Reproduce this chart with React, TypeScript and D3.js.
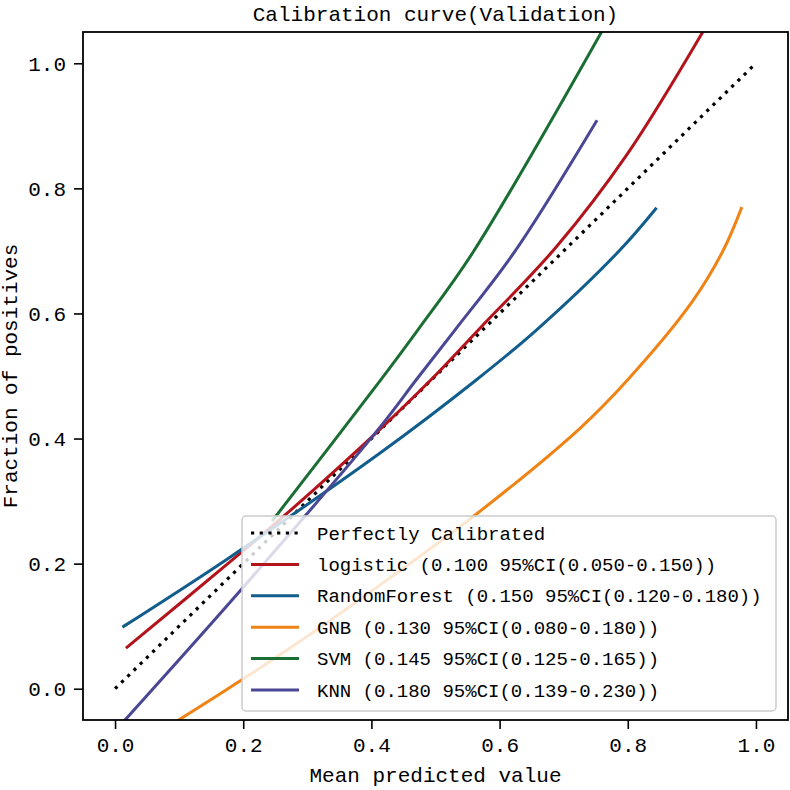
import React, { useEffect, useRef } from 'react';
import * as d3 from 'd3';

// axis ticks
const xTicks = [0, 0.2, 0.4, 0.6, 0.8, 1.0];
const yTicks = [0, 0.2, 0.4, 0.6, 0.8, 1.0];

// perfectly calibrated reference
const perfectX = [0, 1];
const perfectY = [0, 1];

// calibration curves
const logisticX = [0.017, 0.183, 0.269, 0.4125, 0.493, 0.569, 0.689, 0.8, 0.917];
const logisticY = [0.065, 0.206, 0.281, 0.414, 0.494, 0.576, 0.707, 0.856, 1.05];

const rfX = [0.0115, 0.173, 0.4125, 0.564, 0.657, 0.7875, 0.845];
const rfY = [0.0985, 0.206, 0.376, 0.494, 0.573, 0.701, 0.769];

const gnbX = [0.09, 0.178, 0.3, 0.4, 0.5635, 0.725, 0.8, 0.9, 0.949, 0.978];
const gnbY = [-0.056, 0.001, 0.084, 0.156, 0.279, 0.416, 0.494, 0.618, 0.701, 0.77];

const svmX = [0.245, 0.4125, 0.472, 0.558, 0.759];
const svmY = [0.268, 0.491, 0.573, 0.697, 1.05];

const knnX = [0.005, 0.199, 0.4125, 0.47, 0.53, 0.623, 0.752];
const knnY = [-0.062, 0.161, 0.417, 0.494, 0.573, 0.698, 0.909];

const seriesNames = ['logistic', 'RandomForest', 'GNB', 'SVM', 'KNN'];
const seriesLabels = [
  'logistic (0.100 95%CI(0.050-0.150))',
  'RandomForest (0.150 95%CI(0.120-0.180))',
  'GNB (0.130 95%CI(0.080-0.180))',
  'SVM (0.145 95%CI(0.125-0.165))',
  'KNN (0.180 95%CI(0.139-0.230))',
];
const seriesColors = ['#b3141c', '#125d8c', '#ef8316', '#1b6e33', '#4a4794'];
const seriesXs = [logisticX, rfX, gnbX, svmX, knnX];
const seriesYs = [logisticY, rfY, gnbY, svmY, knnY];

const FONT = '"Liberation Mono", "DejaVu Sans Mono", monospace';

export default function App() {
  const svgRef = useRef<SVGSVGElement>(null);

  useEffect(() => {
    if (!svgRef.current) return;
    const width = 790;
    const height = 790;
    const margin = { top: 32, right: 2, bottom: 70, left: 83 };

    const svg = d3.select(svgRef.current);
    svg.selectAll('*').remove();
    svg.attr('width', width).attr('height', height);

    const x = d3.scaleLinear().domain([-0.05, 1.05]).range([margin.left, width - margin.right]);
    const y = d3.scaleLinear().domain([-0.05, 1.05]).range([height - margin.bottom, margin.top]);

    svg.append('defs').append('clipPath').attr('id', 'plot-clip')
      .append('rect')
      .attr('x', x(-0.05)).attr('y', y(1.05))
      .attr('width', x(1.05) - x(-0.05)).attr('height', y(-0.05) - y(1.05));

    const plot = svg.append('g').attr('clip-path', 'url(#plot-clip)');

    const line = d3.line<[number, number]>()
      .x(d => x(d[0]))
      .y(d => y(d[1]))
      .curve(d3.curveCatmullRom.alpha(0.5));

    // perfectly calibrated
    plot.append('path')
      .datum(perfectX.map((v, i) => [v, perfectY[i]] as [number, number]))
      .attr('d', d3.line<[number, number]>().x(d => x(d[0])).y(d => y(d[1])))
      .attr('fill', 'none')
      .attr('stroke', '#000')
      .attr('stroke-width', 3.2)
      .attr('stroke-dasharray', '3.2 5.5');

    seriesNames.forEach((name, i) => {
      const pts = seriesXs[i].map((v, j) => [v, seriesYs[i][j]] as [number, number]);
      plot.append('path')
        .datum(pts)
        .attr('class', name)
        .attr('d', line)
        .attr('fill', 'none')
        .attr('stroke', seriesColors[i])
        .attr('stroke-width', 3)
        .attr('stroke-linecap', 'butt');
    });

    // x axis
    const xAxis = svg.append('g')
      .attr('transform', `translate(0,${y(-0.05)})`)
      .call(d3.axisBottom(x).tickValues(xTicks).tickSize(9).tickPadding(8).tickFormat(d3.format('.1f')));
    xAxis.select('.domain').remove();
    xAxis.selectAll('line').attr('stroke-width', 1.6);
    xAxis.selectAll('text').attr('font-family', FONT).attr('font-size', 21).attr('fill', '#000');

    // y axis
    const yAxis = svg.append('g')
      .attr('transform', `translate(${x(-0.05)},0)`)
      .call(d3.axisLeft(y).tickValues(yTicks).tickSize(9).tickPadding(8).tickFormat(d3.format('.1f')));
    yAxis.select('.domain').remove();
    yAxis.selectAll('line').attr('stroke-width', 1.6);
    yAxis.selectAll('text').attr('font-family', FONT).attr('font-size', 21).attr('fill', '#000');

    // frame
    svg.append('rect')
      .attr('x', x(-0.05)).attr('y', y(1.05))
      .attr('width', x(1.05) - x(-0.05)).attr('height', y(-0.05) - y(1.05))
      .attr('fill', 'none').attr('stroke', '#000').attr('stroke-width', 1.8);

    const cx = (x(-0.05) + x(1.05)) / 2;

    svg.append('text')
      .attr('x', cx).attr('y', 21)
      .attr('text-anchor', 'middle')
      .attr('font-family', FONT).attr('font-size', 21)
      .text('Calibration curve(Validation)');

    svg.append('text')
      .attr('x', cx).attr('y', 782)
      .attr('text-anchor', 'middle')
      .attr('font-family', FONT).attr('font-size', 21)
      .text('Mean predicted value');

    svg.append('text')
      .attr('transform', `translate(17,${(y(1.05) + y(-0.05)) / 2}) rotate(-90)`)
      .attr('text-anchor', 'middle')
      .attr('font-family', FONT).attr('font-size', 21)
      .text('Fraction of positives');

    // legend
    const legend = svg.append('g').attr('transform', 'translate(242,516)');
    legend.append('rect')
      .attr('width', 534).attr('height', 195)
      .attr('rx', 4)
      .attr('fill', 'white').attr('fill-opacity', 0.8)
      .attr('stroke', '#cccccc').attr('stroke-width', 1.5);

    const labels = ['Perfectly Calibrated', ...seriesLabels];
    const rowStep = 31.4;
    labels.forEach((label, i) => {
      const ry = 17 + i * rowStep;
      const row = legend.append('g').attr('transform', `translate(0,${ry})`);
      if (i === 0) {
        row.append('line')
          .attr('x1', 9).attr('x2', 57).attr('y1', 0).attr('y2', 0)
          .attr('stroke', '#000').attr('stroke-width', 3.2)
          .attr('stroke-dasharray', '3.2 5.5');
      } else {
        row.append('line')
          .attr('x1', 9).attr('x2', 57).attr('y1', 0).attr('y2', 0)
          .attr('stroke', seriesColors[i - 1]).attr('stroke-width', 3);
      }
      row.append('text')
        .attr('x', 75).attr('y', 0)
        .attr('dy', '0.35em')
        .attr('font-family', FONT).attr('font-size', 19)
        .text(label);
    });
  }, []);

  return (
    <div style={{ position: 'absolute', left: 0, top: 0 }}>
      <svg ref={svgRef}></svg>
    </div>
  );
}
